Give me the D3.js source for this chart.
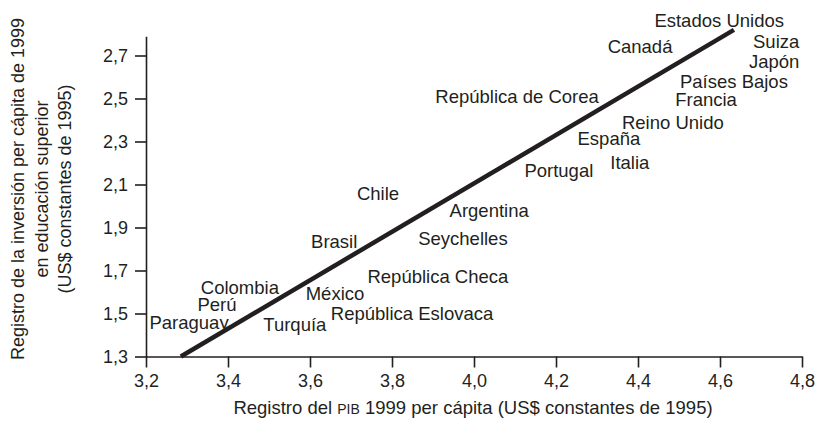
<!DOCTYPE html>
<html>
<head>
<meta charset="utf-8">
<script src="https://cdn.jsdelivr.net/npm/d3@7"></script>
<style>
  body { margin: 0; background: #fff; }
  svg { font-family: "Liberation Sans", Arial, Helvetica, sans-serif; }
</style>
</head>
<body>
<svg id="chart"></svg>
<script>

// label positions of each country (log GDP per capita, log spending per student)
const countries = ["Estados Unidos", "Canadá", "Suiza", "Japón", "Países Bajos", "Francia",
  "República de Corea", "Reino Unido", "España", "Italia", "Portugal", "Chile", "Argentina",
  "Brasil", "Seychelles", "República Checa", "Colombia", "México", "Perú",
  "República Eslovaca", "Paraguay", "Turquía"];
const gdp = [4.598, 4.405, 4.737, 4.732, 4.634, 4.566, 4.105, 4.485, 4.329, 4.380, 4.207,
  3.766, 4.037, 3.659, 3.973, 3.912, 3.429, 3.661, 3.373, 3.849, 3.305, 3.563];
const invest = [2.865, 2.740, 2.763, 2.674, 2.577, 2.493, 2.507, 2.386, 2.312, 2.200, 2.163,
  2.060, 1.981, 1.837, 1.851, 1.674, 1.623, 1.591, 1.540, 1.502, 1.456, 1.451];

// fitted line end points
const fitX = [3.285, 4.634];
const fitY = [1.3, 2.819];

const xTicks = [3.2, 3.4, 3.6, 3.8, 4.0, 4.2, 4.4, 4.6, 4.8];
const yTicks = [1.3, 1.5, 1.7, 1.9, 2.1, 2.3, 2.5, 2.7];

const width = 816;
const height = 442;
const ink = "#231f20";

const x = d3.scaleLinear().domain([3.2, 4.8]).range([146, 802]);
const y = d3.scaleLinear().domain([1.3, 2.79]).range([356.5, 36.15]);

const fmt = d => d3.format(".1f")(d).replace(".", ",");

const svg = d3.select("#chart")
    .attr("width", width)
    .attr("height", height);

// x axis
const gx = svg.append("g")
    .attr("transform", `translate(0, ${y(1.3)})`)
    .call(d3.axisBottom(x).tickValues(xTicks).tickSize(11).tickSizeOuter(0).tickPadding(7).tickFormat(fmt));

// y axis
const gy = svg.append("g")
    .attr("transform", `translate(${x(3.2)}, 0)`)
    .call(d3.axisLeft(y).tickValues(yTicks).tickSize(11).tickSizeOuter(0).tickPadding(7).tickFormat(fmt));

[gx, gy].forEach(g => {
  g.attr("font-family", null).attr("font-size", null);
  g.selectAll("path, line").attr("stroke", ink).attr("stroke-width", 1.6);
  g.selectAll("text").attr("fill", ink).style("font-size", "18px");
});

// regression line
svg.append("line")
    .attr("x1", x(fitX[0])).attr("y1", y(fitY[0]))
    .attr("x2", x(fitX[1])).attr("y2", y(fitY[1]))
    .attr("stroke", ink)
    .attr("stroke-width", 4.5);

// country labels
svg.append("g")
  .selectAll("text")
  .data(countries)
  .join("text")
    .attr("x", (d, i) => x(gdp[i]))
    .attr("y", (d, i) => y(invest[i]))
    .attr("text-anchor", "middle")
    .attr("dy", "0.35em")
    .attr("fill", ink)
    .style("font-size", "18.5px")
    .text(d => d);

// axis titles
const xt = svg.append("text")
    .attr("x", 473)
    .attr("y", 414)
    .attr("text-anchor", "middle")
    .attr("fill", ink)
    .style("font-size", "18.5px");
xt.append("tspan").text("Registro del ");
xt.append("tspan").style("font-size", "14px").text("PIB");
xt.append("tspan").text(" 1999 per cápita (US$ constantes de 1995)");

svg.append("text")
    .attr("transform", "translate(24, 189) rotate(-90)")
    .attr("text-anchor", "middle")
    .attr("fill", ink)
    .style("font-size", "18px")
  .selectAll("tspan")
  .data(["Registro de la inversión per cápita de 1999", "en educación superior", "(US$ constantes de 1995)"])
  .join("tspan")
    .attr("x", 0)
    .attr("dy", (d, i) => i === 0 ? 0 : 23.5)
    .text(d => d);
</script>
</body>
</html>
